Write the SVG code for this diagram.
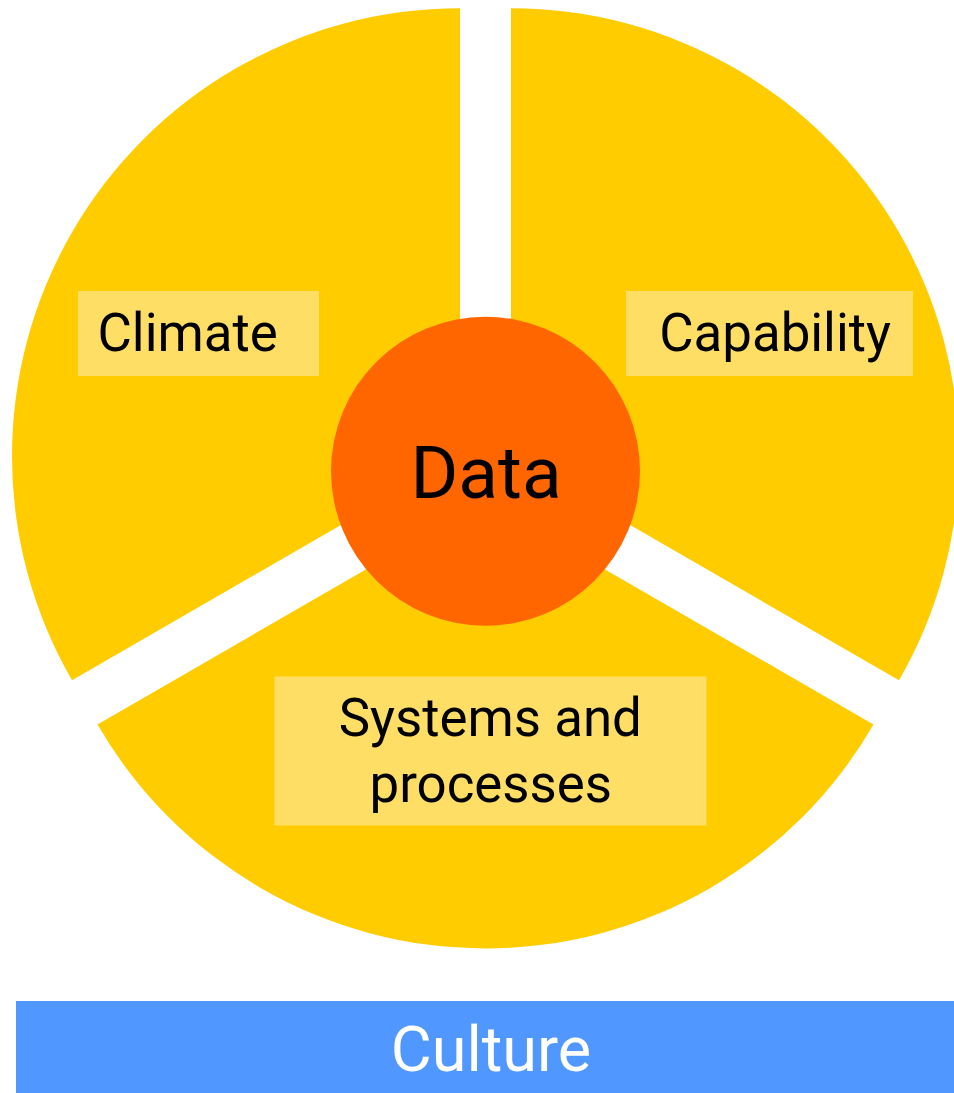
<svg xmlns="http://www.w3.org/2000/svg" width="954" height="1093" viewBox="0 0 954 1093">
  <style>
    .sector { fill: #FFCC00; }
    .label-box { fill: #FFDE66; }
    .label { font-family: Roboto, "Liberation Sans", sans-serif; font-size: 52.8px; fill: #000000; }
    .core { fill: #FF6600; }
    .core-text { font-family: Roboto, "Liberation Sans", sans-serif; font-size: 73px; fill: #000000; }
    .base { fill: #5098FF; }
    .base-text { font-family: Roboto, "Liberation Sans", sans-serif; font-size: 63px; fill: #FFFFFF; }
  </style>
  <rect width="954" height="1093" fill="#FFFFFF"/>

  <!-- Exploded three-way wheel: each wedge (r=448) pushed out along its bisector -->
  <g id="climate">
    <path class="sector" d="M 460 456.28 L 460 8.28 A 448 448 0 0 0 72.02 680.28 Z"/>
    <rect class="label-box" x="78" y="291" width="241" height="85"/>
    <text class="label" x="97.5" y="351">Climate</text>
  </g>

  <g id="capability">
    <path class="sector" d="M 511 456.28 L 511 8.28 A 448 448 0 0 1 898.98 680.28 Z"/>
    <rect class="label-box" x="626" y="291" width="287" height="85"/>
    <text class="label" x="659.2" y="351">Capability</text>
  </g>

  <g id="systems-and-processes">
    <path class="sector" d="M 485.5 500.45 L 873.48 724.45 A 448 448 0 0 1 97.52 724.45 Z"/>
    <rect class="label-box" x="274.5" y="676.5" width="432" height="149"/>
    <text class="label" x="490.3" y="736" text-anchor="middle">Systems and</text>
    <text class="label" x="490.8" y="802" text-anchor="middle">processes</text>
  </g>

  <!-- Central hub -->
  <g id="data">
    <circle class="core" cx="485.5" cy="471.2" r="154.5"/>
    <text class="core-text" x="486" y="498.3" text-anchor="middle">Data</text>
  </g>

  <!-- Foundation bar -->
  <g id="culture">
    <rect class="base" x="16" y="1001" width="938" height="92"/>
    <text class="base-text" x="491" y="1071" text-anchor="middle">Culture</text>
  </g>

  <g id="connectors"/>
</svg>
